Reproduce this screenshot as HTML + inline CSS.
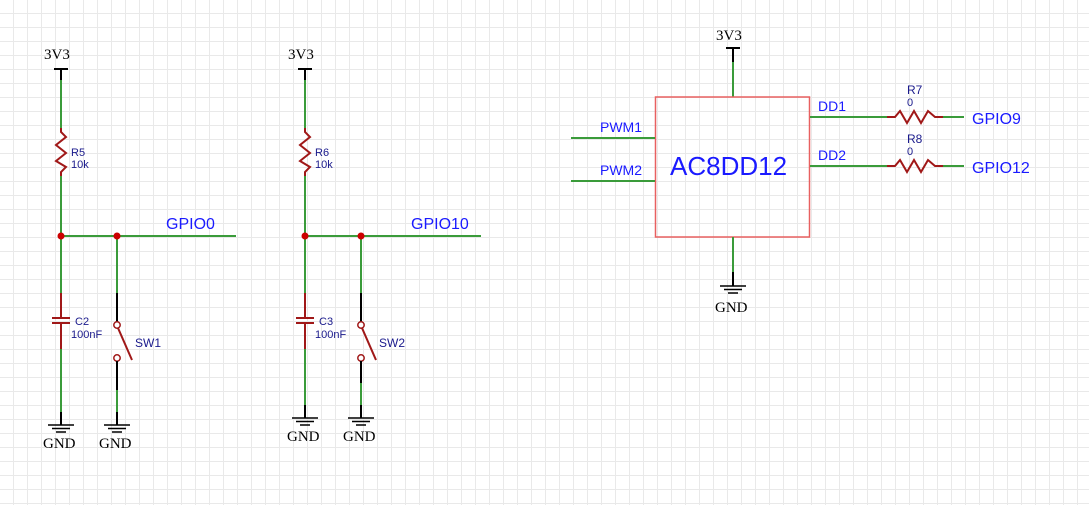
<!DOCTYPE html>
<html><head><style>
html,body{margin:0;padding:0;background:#fff}
svg{display:block}
text{font-family:"Liberation Sans",sans-serif}
.s{font-family:"Liberation Serif",serif;font-size:15px;fill:#000}
</style></head><body>
<svg width="1089" height="505" viewBox="0 0 1089 505" xmlns="http://www.w3.org/2000/svg">
<defs>
<pattern id="g" width="14" height="14" patternUnits="userSpaceOnUse" x="13" y="13">
<path d="M0.5 0V14M0 0.5H14" fill="none" stroke="#e9e9e9" stroke-width="1"/>
</pattern>
</defs>
<rect width="1089" height="505" fill="url(#g)"/>

<!-- Circuit 1 -->
<g stroke-width="2" fill="none">
<path d="M54 69H68" stroke="#000"/>
<path d="M61 69V80" stroke="#000"/>
<path d="M61 80V128" stroke="#3a9b3a"/>
<path d="M61 128V132L66 137L56 145L66 153L56 161L66 167L61 172V176" stroke="#a01818"/>
<path d="M61 176V293" stroke="#3a9b3a"/>
<path d="M61 236H236" stroke="#3a9b3a"/>
<path d="M61 293V318M52 318H70M52 323H70M61 323V349" stroke="#a01818"/>
<path d="M61 349V412" stroke="#3a9b3a"/>
<path d="M61 412V425" stroke="#000"/>
<path d="M48 425H74M52 428.5H70M56 432H66" stroke="#000" stroke-width="1.5"/>
<path d="M117 236V293" stroke="#3a9b3a"/>
<path d="M117 293V322" stroke="#000"/>
<circle cx="117" cy="325" r="3.2" stroke="#a01818" stroke-width="1.5"/>
<path d="M118 328L132 360" stroke="#a01818"/>
<circle cx="117" cy="358" r="3.2" stroke="#a01818" stroke-width="1.5"/>
<path d="M117 361V390" stroke="#000"/>
<path d="M117 390V412" stroke="#3a9b3a"/>
<path d="M117 412V425" stroke="#000"/>
<path d="M104 425H130M108 428.5H126M112 432H122" stroke="#000" stroke-width="1.5"/>
</g>
<circle cx="61" cy="236" r="3.5" fill="#cc0000"/>
<circle cx="117" cy="236" r="3.5" fill="#cc0000"/>
<text x="44" y="59" class="s">3V3</text>
<text x="71" y="156" font-size="11" fill="#1a1a8c">R5</text>
<text x="71" y="168" font-size="11" fill="#1a1a8c">10k</text>
<text x="166" y="229" font-size="16" fill="#1a1aff">GPIO0</text>
<text x="75" y="325" font-size="11" fill="#1a1a8c">C2</text>
<text x="71" y="338" font-size="11" fill="#1a1a8c">100nF</text>
<text x="135" y="347" font-size="12" fill="#1a1a8c">SW1</text>
<text x="43" y="448" class="s">GND</text>
<text x="99" y="448" class="s">GND</text>

<!-- Circuit 2 -->
<g stroke-width="2" fill="none">
<path d="M298 69H312" stroke="#000"/>
<path d="M305 69V80" stroke="#000"/>
<path d="M305 80V128" stroke="#3a9b3a"/>
<path d="M305 128V132L310 137L300 145L310 153L300 161L310 167L305 172V176" stroke="#a01818"/>
<path d="M305 176V293" stroke="#3a9b3a"/>
<path d="M305 236H481" stroke="#3a9b3a"/>
<path d="M305 293V318M296 318H314M296 323H314M305 323V349" stroke="#a01818"/>
<path d="M305 349V405" stroke="#3a9b3a"/>
<path d="M305 405V418" stroke="#000"/>
<path d="M292 418H318M296 421.5H314M300 425H310" stroke="#000" stroke-width="1.5"/>
<path d="M361 236V293" stroke="#3a9b3a"/>
<path d="M361 293V322" stroke="#000"/>
<circle cx="361" cy="325" r="3.2" stroke="#a01818" stroke-width="1.5"/>
<path d="M362 328L376 360" stroke="#a01818"/>
<circle cx="361" cy="358" r="3.2" stroke="#a01818" stroke-width="1.5"/>
<path d="M361 361V383" stroke="#000"/>
<path d="M361 383V405" stroke="#3a9b3a"/>
<path d="M361 405V418" stroke="#000"/>
<path d="M348 418H374M352 421.5H370M356 425H366" stroke="#000" stroke-width="1.5"/>
</g>
<circle cx="305" cy="236" r="3.5" fill="#cc0000"/>
<circle cx="361" cy="236" r="3.5" fill="#cc0000"/>
<text x="288" y="59" class="s">3V3</text>
<text x="315" y="156" font-size="11" fill="#1a1a8c">R6</text>
<text x="315" y="168" font-size="11" fill="#1a1a8c">10k</text>
<text x="411" y="229" font-size="16" fill="#1a1aff">GPIO10</text>
<text x="319" y="325" font-size="11" fill="#1a1a8c">C3</text>
<text x="315" y="338" font-size="11" fill="#1a1a8c">100nF</text>
<text x="379" y="347" font-size="12" fill="#1a1a8c">SW2</text>
<text x="287" y="441" class="s">GND</text>
<text x="343" y="441" class="s">GND</text>

<!-- Right block -->
<g stroke-width="2" fill="none">
<path d="M726 48H740M733 48V62" stroke="#000"/>
<path d="M733 62V97" stroke="#3a9b3a"/>
<rect x="655.5" y="97" width="154" height="140" stroke="#e86060" stroke-width="1.5"/>
<path d="M733 237V272" stroke="#3a9b3a"/>
<path d="M733 272V286" stroke="#000"/>
<path d="M720 286H746M724 289.5H742M728 293H738" stroke="#000" stroke-width="1.5"/>
<path d="M571 138H655M571 181H655" stroke="#3a9b3a"/>
<path d="M810 117H887M810 166H887" stroke="#3a9b3a"/>
<path d="M887 117H895L900 111L907 123L914 111L921 123L928 111L935 117H943" stroke="#a01818"/>
<path d="M887 166H895L900 160L907 172L914 160L921 172L928 160L935 166H943" stroke="#a01818"/>
<path d="M943 117H964M943 166H964" stroke="#3a9b3a"/>
</g>
<text x="716" y="40" class="s">3V3</text>
<text x="715" y="312" class="s">GND</text>
<text x="600" y="132" font-size="14" fill="#1a1aff">PWM1</text>
<text x="600" y="175" font-size="14" fill="#1a1aff">PWM2</text>
<text x="670" y="175" font-size="26" fill="#1a1aff">AC8DD12</text>
<text x="818" y="111" font-size="14" fill="#1a1aff">DD1</text>
<text x="818" y="160" font-size="14" fill="#1a1aff">DD2</text>
<text x="907" y="94" font-size="12" fill="#1a1a8c">R7</text>
<text x="907" y="106" font-size="11" fill="#1a1a8c">0</text>
<text x="907" y="143" font-size="12" fill="#1a1a8c">R8</text>
<text x="907" y="155" font-size="11" fill="#1a1a8c">0</text>
<text x="972" y="124" font-size="16" fill="#1a1aff">GPIO9</text>
<text x="972" y="173" font-size="16" fill="#1a1aff">GPIO12</text>
</svg>
</body></html>
